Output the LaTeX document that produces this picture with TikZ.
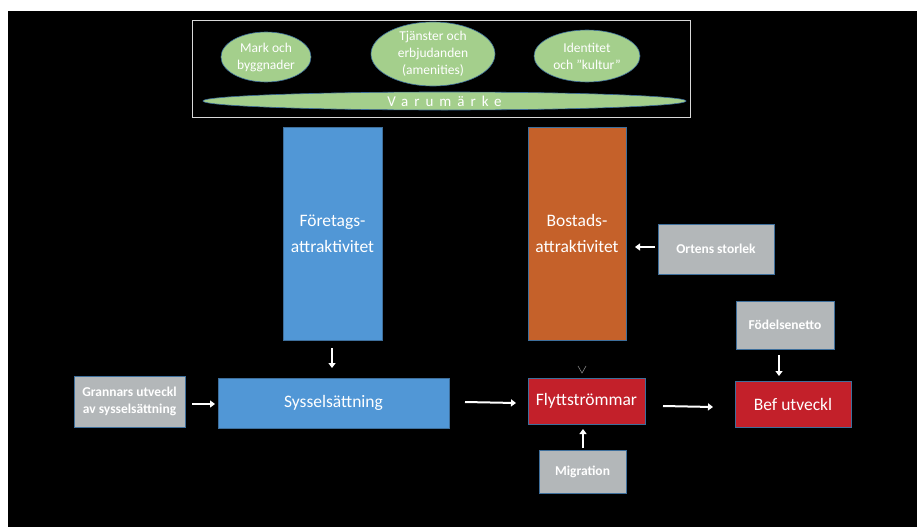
\documentclass[tikz,border=0pt]{standalone}
\usepackage{fontspec}
\setmainfont{Carlito}
\usetikzlibrary{shapes.geometric,arrows.meta}
\definecolor{bblue}{HTML}{5197D6}
\definecolor{borange}{HTML}{C5612A}
\definecolor{bred}{HTML}{C3202A}
\definecolor{bgray}{HTML}{B3B7B9}
\definecolor{bgreen}{HTML}{A4CF8C}
\definecolor{edgeb}{HTML}{3E6F9C}
\tikzset{
  box/.style={draw=edgeb, line width=0.8pt, inner sep=0pt, outer sep=0pt, text=white, align=center},
  bigtxt/.style={font=\fontsize{17.5}{26}\selectfont},
  graybox/.style={box, fill=bgray, font=\bfseries\fontsize{13.5}{17}\selectfont},
  oval/.style={ellipse, draw=edgeb, line width=0.6pt, fill=bgreen, text=white, inner sep=0pt, outer sep=0pt, align=center, font=\fontsize{13.5}{17}\selectfont},
  warrow/.style={draw=white, line width=2pt, -{Triangle[length=5pt,width=7pt]}},
}
\begin{document}
\begin{tikzpicture}[x=1pt,y=-1pt]
\useasboundingbox (0,0) rectangle (917,527);
\fill[white] (0,0) rectangle (917,527);
\fill[black] (8,11) rectangle (917,527);
% top frame
\node[draw=white!85!black, line width=0.8pt, minimum width=498pt, minimum height=97pt, inner sep=0pt] (frame) at (441,68.5) {};
\node[oval, minimum width=90pt, minimum height=50pt] (mark) at (266,57) {Mark och\\byggnader};
\node[oval, minimum width=124pt, minimum height=64pt] (tjanst) at (433,54) {Tjänster och\\erbjudanden\\(amenities)};
\node[oval, minimum width=106pt, minimum height=52pt] (ident) at (587,56) {Identitet\\och ”kultur”};
\node[oval, minimum width=483pt, minimum height=18pt, font=\fontsize{15}{17}\selectfont\addfontfeature{LetterSpace=40}] (varu) at (444.5,101) {Varumärke};
% columns
\node[box, fill=bblue, bigtxt, minimum width=99pt, minimum height=213pt] (foretag) at (332.5,233.5) {Företags-\\attraktivitet};
\node[box, fill=borange, bigtxt, minimum width=98pt, minimum height=213pt] (bostad) at (577,233.5) {Bostads-\\attraktivitet};
\node[graybox, minimum width=116pt, minimum height=50pt] (orten) at (716,249) {Ortens storlek};
\node[graybox, minimum width=98pt, minimum height=48pt] (fodel) at (785,325) {Födelsenetto};
% bottom row
\node[graybox, minimum width=111pt, minimum height=51pt] (grann) at (129.5,401.5) {Grannars utveckl\\av sysselsättning};
\node[box, fill=bblue, bigtxt, minimum width=231pt, minimum height=50pt] (syss) at (333.5,403) {Sysselsättning};
\node[box, fill=bred, bigtxt, minimum width=117pt, minimum height=46pt] (flytt) at (586.5,401) {Flyttströmmar};
\node[box, fill=bred, bigtxt, minimum width=116pt, minimum height=46pt] (bef) at (793,404) {Bef utveckl};
\node[graybox, minimum width=87pt, minimum height=43pt] (migr) at (582.5,471.5) {Migration};
% small chevron above Flyttströmmar
\coordinate (chevA) at (578,366);
\coordinate (chevB) at (582,373);
\coordinate (chevC) at (586,366);
\draw[gray, line width=0.6pt] (chevA) -- (chevB) -- (chevC);
% arrow end points
\coordinate (o1) at (655,247); \coordinate (o2) at (635,247);
\coordinate (f1) at (779,355); \coordinate (f2) at (779,376);
\coordinate (a1) at (332,348); \coordinate (a2) at (332,368);
\coordinate (g1) at (192,404); \coordinate (g2) at (215,404);
\coordinate (s1) at (465,402); \coordinate (s2) at (516,403);
\coordinate (r1) at (663,406); \coordinate (r2) at (713,407);
\coordinate (m1) at (583,448); \coordinate (m2) at (583,429);
% arrows
\draw[warrow] (o1) -- (o2);
\draw[warrow] (f1) -- (f2);
\draw[warrow] (a1) -- (a2);
\draw[warrow] (g1) -- (g2);
\draw[warrow] (s1) -- (s2);
\draw[warrow] (r1) -- (r2);
\draw[warrow] (m1) -- (m2);
\end{tikzpicture}
\end{document}
